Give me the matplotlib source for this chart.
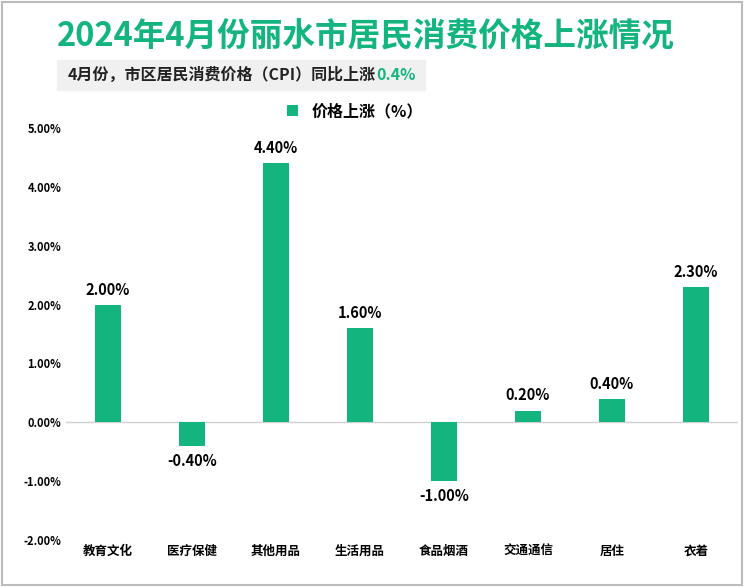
import matplotlib.pyplot as plt
from matplotlib.patches import Rectangle

plt.rcParams['font.family'] = ['Noto Sans CJK SC']

categories = ['教育文化', '医疗保健', '其他用品', '生活用品', '食品烟酒', '交通通信', '居住', '衣着']
values = [2.0, -0.4, 4.4, 1.6, -1.0, 0.2, 0.4, 2.3]
yticks = [-2, -1, 0, 1, 2, 3, 4, 5]
GREEN = '#14B47E'

fig = plt.figure(figsize=(7.44, 5.87), dpi=100)
ax = fig.add_axes([66 / 744, 1 - 540 / 587, 672 / 744, 412 / 587])

x = range(len(categories))
ax.bar(x, values, width=0.31, color=GREEN, label='价格上涨（%）', zorder=3)
for xi, v in zip(x, values):
    off = 0.12 if v >= 0 else -0.12
    ax.text(xi, v + off, f'{v:.2f}%', ha='center', va='bottom' if v >= 0 else 'top',
            fontsize=10.5, fontweight='bold')

ax.set_xlim(-0.5, len(categories) - 0.5)
ax.set_ylim(-2, 5)
ax.set_yticks(yticks)
ax.set_yticklabels([f'{t:.2f}%' for t in yticks], fontsize=8, fontweight='bold')
ax.set_xticks(list(x))
ax.set_xticklabels(categories, fontsize=9, fontweight='bold')
ax.tick_params(length=0)
ax.axhline(0, color='#d0d0d0', lw=1, zorder=2)
for s in ax.spines.values():
    s.set_visible(False)

ax.legend(loc='upper center', bbox_to_anchor=(0.43, 1.095), frameon=False,
          handlelength=0.7, handleheight=0.7, prop={'weight': 'bold', 'size': 11.5})

fig.patches.append(Rectangle((0.003, 0.003), 0.994, 0.994, transform=fig.transFigure,
                             fill=False, edgecolor='#bbbbbb', lw=1.5))
fig.patches.append(Rectangle((57 / 744, 1 - 90 / 587), 368 / 744, 30 / 587,
                             transform=fig.transFigure, color='#f0f0f0', zorder=0))
fig.text(57 / 744, 1 - 37 / 587, '2024年4月份丽水市居民消费价格上涨情况', ha='left', va='center',
         fontsize=23.5, fontweight='heavy', color=GREEN)
t = fig.text(68 / 744, 1 - 75 / 587, '4月份，市区居民消费价格（CPI）同比上涨', ha='left',
             va='center', fontsize=11.5, fontweight='bold', color='#222222')
fig.canvas.draw()
bb = t.get_window_extent()
fig.text(bb.x1 / 744, 1 - 75 / 587, '0.4%', ha='left', va='center', fontsize=11.5,
         fontweight='bold', color=GREEN)

fig.savefig('out.png', dpi=100)
